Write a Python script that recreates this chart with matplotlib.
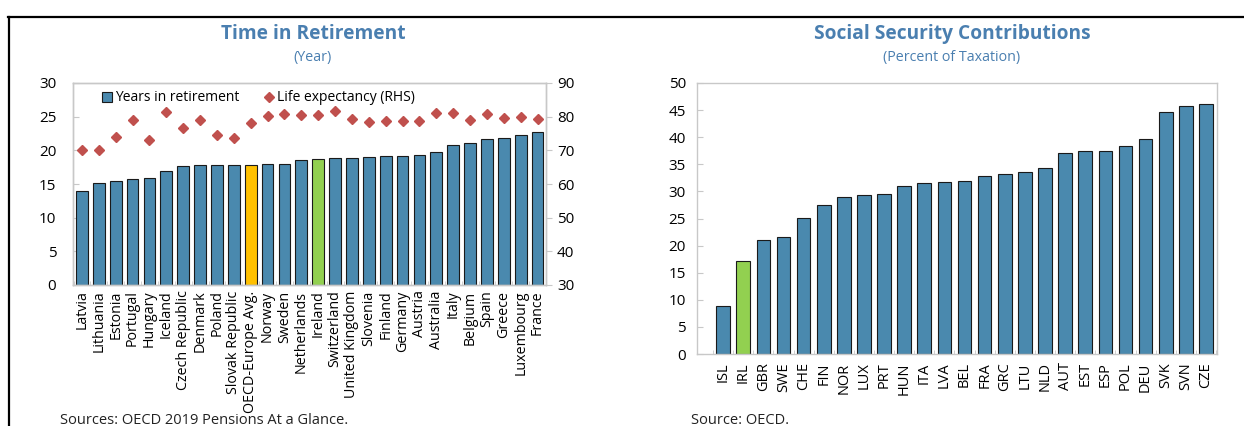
import matplotlib
matplotlib.use("Agg")
import matplotlib.pyplot as plt
from matplotlib.lines import Line2D
import numpy as np

plt.rcParams['font.family'] = ['Open Sans', 'DejaVu Sans']

# ---- Data: Time in Retirement ----
countries = ["Latvia", "Lithuania", "Estonia", "Portugal", "Hungary", "Iceland",
             "Czech Republic", "Denmark", "Poland", "Slovak Republic", "OECD-Europe Avg.",
             "Norway", "Sweden", "Netherlands", "Ireland", "Switzerland", "United Kingdom",
             "Slovenia", "Finland", "Germany", "Austria", "Australia", "Italy", "Belgium",
             "Spain", "Greece", "Luxembourg", "France"]
years_in_retirement = [13.9, 15.1, 15.4, 15.7, 15.9, 17.0, 17.7, 17.8, 17.8, 17.8, 17.8,
                       18.0, 18.0, 18.6, 18.7, 18.8, 18.9, 19.0, 19.1, 19.1, 19.3, 19.8,
                       20.8, 21.1, 21.7, 21.8, 22.3, 22.7]
life_expectancy = [70.0, 70.0, 74.0, 79.0, 73.0, 81.3, 76.5, 79.0, 74.5, 73.8, 78.0,
                   80.3, 80.8, 80.5, 80.5, 81.6, 79.4, 78.3, 78.7, 78.7, 78.8, 81.2,
                   81.2, 79.1, 80.8, 79.7, 79.8, 79.4]

# ---- Data: Social Security Contributions ----
codes = ["ISL", "IRL", "GBR", "SWE", "CHE", "FIN", "NOR", "LUX", "PRT", "HUN", "ITA",
         "LVA", "BEL", "FRA", "GRC", "LTU", "NLD", "AUT", "EST", "ESP", "POL", "DEU",
         "SVK", "SVN", "CZE"]
ssc_share = [8.9, 17.1, 21.0, 21.5, 25.1, 27.5, 29.0, 29.3, 29.6, 31.0, 31.6, 31.7,
             31.9, 32.8, 33.3, 33.5, 34.3, 37.1, 37.4, 37.5, 38.4, 39.7, 44.7, 45.7, 46.1]

BLUE = "#4A89AE"
ORANGE = "#FFC000"
GREEN = "#92D050"
RED = "#C0504D"
TITLE = "#4A7FB0"
SPINE = "#C8C8C8"

W, H = 1244, 426
fig = plt.figure(figsize=(W / 100, H / 100), dpi=100)

def fx(px):
    return px / W

def fy(py):
    return 1 - py / H

# Frame lines
fig.add_artist(Line2D([fx(8), fx(1244)], [fy(16.5), fy(16.5)], color="black", lw=1.6))
fig.add_artist(Line2D([fx(8.5), fx(8.5)], [fy(16.5), 0], color="black", lw=1.6))

def style_axes(ax):
    for s in ax.spines.values():
        s.set_color(SPINE)
        s.set_linewidth(1.0)

# ---- Left chart ----
ax1 = fig.add_axes([fx(73), fy(285), fx(546 - 73), (285 - 83) / H])
x1 = np.arange(len(countries))
cols1 = [BLUE] * len(countries)
cols1[countries.index("OECD-Europe Avg.")] = ORANGE
cols1[countries.index("Ireland")] = GREEN
ax1.bar(x1, years_in_retirement, width=0.7, color=cols1, edgecolor="#1a1a1a", linewidth=0.8, zorder=2)
ax1.set_ylim(0, 30)
ax1.set_yticks(range(0, 31, 5))
ax1.set_xlim(-0.53, len(countries) - 0.65)
ax1.set_xticks(x1)
ax1.set_xticklabels(countries, rotation=90, fontsize=10.3)
ax1.set_xticks(np.arange(-0.5, len(countries), 1), minor=True)
ax1.tick_params(axis="x", which="major", length=0, pad=4)
ax1.tick_params(axis="x", which="minor", direction="in", length=3, color=SPINE)
ax1.tick_params(axis="y", direction="in", length=4, color=SPINE, labelsize=11, pad=12)
style_axes(ax1)

ax1r = ax1.twinx()
ax1r.plot(x1, life_expectancy, linestyle="none", marker="D", markersize=5.5, color=RED, zorder=3)
ax1r.set_ylim(30, 90)
ax1r.set_yticks(range(30, 91, 10))
ax1r.tick_params(axis="y", direction="out", length=4, color=SPINE, labelsize=11, pad=4)
style_axes(ax1r)

handles = [Line2D([], [], linestyle="none", marker="s", markersize=7, markerfacecolor=BLUE,
                  markeredgecolor="#1a1a1a", markeredgewidth=0.8),
           Line2D([], [], linestyle="none", marker="D", markersize=5.5, color=RED)]
ax1.legend(handles, ["Years in retirement", "Life expectancy (RHS)"], loc="upper left",
           bbox_to_anchor=(0.03, 1.025), ncol=2, frameon=False, fontsize=10,
           handletextpad=0.1, columnspacing=1.6, handlelength=1.0)

fig.text(fx(313), fy(34), "Time in Retirement", ha="center", va="center",
         fontsize=13.8, fontweight="bold", color=TITLE)
fig.text(fx(313), fy(57), "(Year)", ha="center", va="center", fontsize=10.3, color=TITLE)
fig.text(fx(60), fy(412.5), "Sources: OECD 2019 Pensions At a Glance.", ha="left", va="top",
         fontsize=10.5, color="#222222")

# ---- Right chart ----
ax2 = fig.add_axes([fx(697), fy(354), fx(1217 - 697), (354 - 83) / H])
x2 = np.arange(len(codes))
cols2 = [BLUE] * len(codes)
cols2[codes.index("IRL")] = GREEN
ax2.bar(x2, ssc_share, width=0.68, color=cols2, edgecolor="#1a1a1a", linewidth=0.8, zorder=2)
ax2.set_ylim(0, 50)
ax2.set_yticks(range(0, 51, 5))
ax2.set_xlim(-1.3, len(codes) - 0.45)
ax2.set_xticks(x2)
ax2.set_xticklabels(codes, rotation=90, fontsize=10.5)
ax2.set_xticks(np.arange(-0.5, len(codes), 1), minor=True)
ax2.tick_params(axis="x", which="major", length=0, pad=6)
ax2.tick_params(axis="x", which="minor", direction="in", length=3, color=SPINE)
ax2.tick_params(axis="y", direction="in", length=4, color=SPINE, labelsize=11, pad=8)
style_axes(ax2)

fig.text(fx(952), fy(34), "Social Security Contributions", ha="center", va="center",
         fontsize=13.8, fontweight="bold", color=TITLE)
fig.text(fx(952), fy(57), "(Percent of Taxation)", ha="center", va="center", fontsize=10.3, color=TITLE)
fig.text(fx(691), fy(412.5), "Source: OECD.", ha="left", va="top", fontsize=10.5, color="#222222")

fig.savefig("out.png", dpi=100)
